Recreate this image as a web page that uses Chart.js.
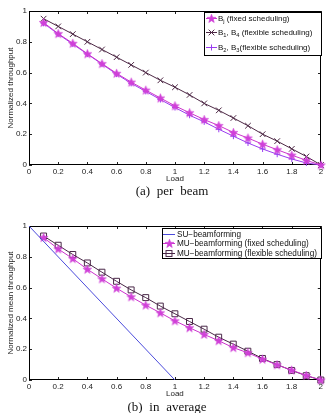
<!DOCTYPE html>
<html><head><meta charset="utf-8">
<script src="https://cdn.jsdelivr.net/npm/chart.js@4.4.1/dist/chart.umd.min.js"></script>
<style>
html,body{margin:0;padding:0;background:#fff;width:326px;height:413px;overflow:hidden;}
#wrap{position:relative;width:326px;height:413px;}
.cv{position:absolute;left:0;width:326px;height:185px;}
.cap{position:absolute;width:326px;text-align:center;font-family:"Liberation Serif","Times New Roman",serif;font-size:13px;color:#111;word-spacing:3.5px;line-height:14px;white-space:nowrap;}
</style></head><body>
<div id="wrap">
<div class="cv" style="top:0"><canvas id="c1" width="326" height="185"></canvas></div>
<div class="cap" style="top:184px;left:9px">(a) per beam</div>
<div class="cv" style="top:215px"><canvas id="c2" width="326" height="185"></canvas></div>
<div class="cap" style="top:400px;left:4px">(b) in average</div>
</div>
<script>
// ---- data ----
const loads = [0.1,0.2,0.3,0.4,0.5,0.6,0.7,0.8,0.9,1.0,1.1,1.2,1.3,1.4,1.5,1.6,1.7,1.8,1.9,2.0];
const bjFixed = [0.925,0.853,0.79,0.722,0.658,0.595,0.538,0.486,0.435,0.384,0.339,0.295,0.256,0.211,0.175,0.135,0.099,0.064,0.03,0.0];
const b14Flex = [0.95,0.9,0.85,0.8,0.75,0.7,0.65,0.6,0.55,0.505,0.455,0.4,0.355,0.305,0.255,0.2,0.155,0.105,0.055,0.0];
const b23Flex = [0.92,0.85,0.785,0.72,0.655,0.59,0.53,0.478,0.425,0.373,0.323,0.28,0.232,0.187,0.143,0.104,0.07,0.039,0.013,0.0];
const suLoads = [0,1];
const suBeam = [1,0];
const muFixed = [0.925,0.851,0.788,0.719,0.657,0.596,0.54,0.486,0.436,0.384,0.339,0.296,0.255,0.21,0.177,0.135,0.099,0.064,0.03,0.0];
const muFlex = [0.935,0.875,0.815,0.76,0.70,0.641,0.585,0.535,0.48,0.43,0.38,0.33,0.278,0.233,0.187,0.14,0.1,0.062,0.028,0.0];
const xTicks = [0,0.2,0.4,0.6,0.8,1,1.2,1.4,1.6,1.8,2];
const xTickLabels = ['0','0.2','0.4','0.6','0.8','1','1.2','1.4','1.6','1.8','2'];
const yTicks = [0,0.2,0.4,0.6,0.8,1];
const yTickLabels = ['0','0.2','0.4','0.6','0.8','1'];
const namesA = ['B_{j} (fixed scheduling)','B_{1}, B_{4} (flexible scheduling)','B_{2}, B_{3}(flexible scheduling)'];
const namesB = ['SU\u2212beamforming','MU\u2212beamforming (fixed scheduling)','MU\u2212beamforming (flexible scheduling)'];
const xTitle = 'Load';
const yTitleA = 'Normalized throughput';
const yTitleB = 'Normalized mean throughput';

// ---- styles ----
const FONT = '"Liberation Sans", Arial, sans-serif';
const MAG = '#cc33cc', DARK = '#4d2845', PURP = '#9a3cf0', BLUE = '#4b4bdc', SQ = '#4a2848';

function starImage(color){
  const c = document.createElement('canvas'); c.width = 11; c.height = 11;
  const g = c.getContext('2d');
  g.beginPath();
  for (let k=0;k<10;k++){
    const r = k%2===0 ? 4.6 : 1.9;
    const a = -Math.PI/2 + k*Math.PI/5;
    const px = 5.5 + r*Math.cos(a), py = 5.8 + r*Math.sin(a);
    if (k===0) g.moveTo(px,py); else g.lineTo(px,py);
  }
  g.closePath(); g.fillStyle = color; g.fill();
  g.strokeStyle = color; g.lineWidth = 0.6; g.stroke();
  return c;
}
const STAR = starImage('#d040d8');

function pts(xs, ys){ return xs.map((x,i)=>({x:x, y:ys[i]})); }

function drawMarker(ctx, style, x, y, r, color, fill){
  ctx.save(); ctx.strokeStyle = color; ctx.lineWidth = 1;
  if (style instanceof HTMLCanvasElement){
    ctx.drawImage(style, Math.round(x - style.width/2), Math.round(y - style.height/2));
  } else if (style === 'cross'){
    ctx.beginPath(); ctx.moveTo(x-r,y); ctx.lineTo(x+r,y); ctx.moveTo(x,y-r); ctx.lineTo(x,y+r); ctx.stroke();
  } else if (style === 'crossRot'){
    const d = r*Math.SQRT1_2;
    ctx.beginPath(); ctx.moveTo(x-d,y-d); ctx.lineTo(x+d,y+d); ctx.moveTo(x-d,y+d); ctx.lineTo(x+d,y-d); ctx.stroke();
  } else if (style === 'rect'){
    const s = r*Math.SQRT1_2;
    if (fill && fill !== 'transparent'){ ctx.fillStyle = fill; ctx.fillRect(x-s,y-s,2*s,2*s); }
    ctx.strokeRect(x-s,y-s,2*s,2*s);
  }
  ctx.restore();
}

function drawRich(ctx, text, x, y, size){
  const parts = text.split(/_\{([^}]*)\}/);
  let cx = x;
  ctx.textBaseline = 'middle'; ctx.textAlign = 'left'; ctx.fillStyle = '#111';
  parts.forEach((p,i)=>{
    if (!p) return;
    if (i%2===1){
      ctx.font = (size*0.72)+'px '+FONT;
      ctx.fillText(p, cx, y+3);
    } else {
      ctx.font = size+'px '+FONT;
      ctx.fillText(p, cx, y);
    }
    cx += ctx.measureText(p).width;
  });
}

const framePlugin = {
  id: 'frame',
  beforeDatasetsDraw(chart){
    const {ctx, chartArea:a, scales:{x, y}} = chart;
    ctx.save();
    ctx.strokeStyle = '#222'; ctx.lineWidth = 1;
    ctx.beginPath();
    xTicks.forEach(v=>{
      const px = Math.round(x.getPixelForValue(v)) + 0.5;
      ctx.moveTo(px, a.bottom); ctx.lineTo(px, a.bottom-3);
      ctx.moveTo(px, a.top); ctx.lineTo(px, a.top+3);
    });
    yTicks.forEach(v=>{
      const py = Math.round(y.getPixelForValue(v)) + 0.5;
      ctx.moveTo(a.left, py); ctx.lineTo(a.left+3, py);
      ctx.moveTo(a.right, py); ctx.lineTo(a.right-3, py);
    });
    ctx.stroke();
    ctx.strokeStyle = '#000';
    ctx.strokeRect(Math.round(a.left)+0.5, Math.round(a.top)+0.5, Math.round(a.right-a.left)-1, Math.round(a.bottom-a.top)-1);
    ctx.restore();
  }
};

const legendPlugin = {
  id: 'boxLegend',
  afterDatasetsDraw(chart, args, o){
    const ctx = chart.ctx;
    ctx.save();
    ctx.fillStyle = '#fff'; ctx.fillRect(o.x, o.y, o.w, o.h);
    ctx.strokeStyle = '#000'; ctx.lineWidth = 1;
    ctx.strokeRect(o.x+0.5, o.y+0.5, o.w, o.h);
    chart.data.datasets.forEach((ds,i)=>{
      const cy = Math.round(o.y + o.first + i*o.rowH) + 0.5;
      ctx.strokeStyle = ds.borderColor; ctx.lineWidth = ds.borderWidth;
      ctx.beginPath(); ctx.moveTo(o.x+o.l0, cy); ctx.lineTo(o.x+o.l1, cy); ctx.stroke();
      if (ds.pointRadius > 0) drawMarker(ctx, ds.pointStyle, o.x+(o.l0+o.l1)/2, cy, ds.pointRadius, ds.borderColor, ds.pointBackgroundColor);
      drawRich(ctx, ds.label, o.x+o.tx, cy, o.size);
    });
    ctx.restore();
  }
};

function makeChart(id, datasets, yTitle, legendOpts){
  return new Chart(document.getElementById(id), {
    type: 'scatter',
    data: {datasets: datasets},
    options: {
      responsive: false, animation: false, events: [],
      layout: {padding: {left: 0, right: 5, top: 11, bottom: 0}},
      plugins: {legend: {display: false}, tooltip: {enabled: false}, boxLegend: legendOpts},
      scales: {
        x: {
          type: 'linear', min: 0, max: 2,
          grid: {display: false, drawTicks: false}, border: {display: false},
          afterBuildTicks: s => { s.ticks = xTicks.map(v => ({value: v})); },
          afterFit: s => { s.height = 20; },
          ticks: {autoSkip: false, maxRotation: 0, minRotation: 0, padding: 2, color: '#222',
                  font: {family: FONT, size: 8}, callback: (v, i) => xTickLabels[i]},
          title: {display: true, text: xTitle, color: '#222', font: {family: FONT, size: 8}, padding: {top: 0, bottom: 1.5}}
        },
        y: {
          type: 'linear', min: 0, max: 1,
          grid: {display: false, drawTicks: false}, border: {display: false},
          afterBuildTicks: s => { s.ticks = yTicks.map(v => ({value: v})); },
          afterFit: s => { s.width = 29; },
          ticks: {autoSkip: false, padding: 2, color: '#222',
                  font: {family: FONT, size: 8}, callback: (v, i) => yTickLabels[i]},
          title: {display: true, text: yTitle, color: '#222', font: {family: FONT, size: 8}, padding: {top: 5.5, bottom: 0}}
        }
      }
    },
    plugins: [framePlugin, legendPlugin]
  });
}

function series(label, xs, ys, color, style, r, bg){
  return {label: label, data: pts(xs, ys), showLine: true, borderColor: color, borderWidth: 1,
          pointStyle: style, pointRadius: r, pointBorderColor: color, pointBackgroundColor: bg || color,
          pointBorderWidth: 1, clip: false, tension: 0};
}

makeChart('c1', [
  series(namesA[0], loads, bjFixed, MAG, STAR, 4),
  series(namesA[1], loads, b14Flex, DARK, 'crossRot', 4),
  series(namesA[2], loads, b23Flex, PURP, 'cross', 3)
], yTitleA, {x: 204, y: 12, w: 117, h: 43, first: 5.5, rowH: 14.5, l0: 2, l1: 13, tx: 14, size: 8});

makeChart('c2', [
  series(namesB[0], suLoads, suBeam, BLUE, 'circle', 0),
  series(namesB[1], loads, muFixed, MAG, STAR, 4),
  series(namesB[2], loads, muFlex, SQ, 'rect', 4.2, 'transparent')
], yTitleB, {x: 162, y: 13, w: 159, h: 30, first: 5.5, rowH: 9.7, l0: 1, l1: 13, tx: 15, size: 8.2});
</script>
</body></html>
